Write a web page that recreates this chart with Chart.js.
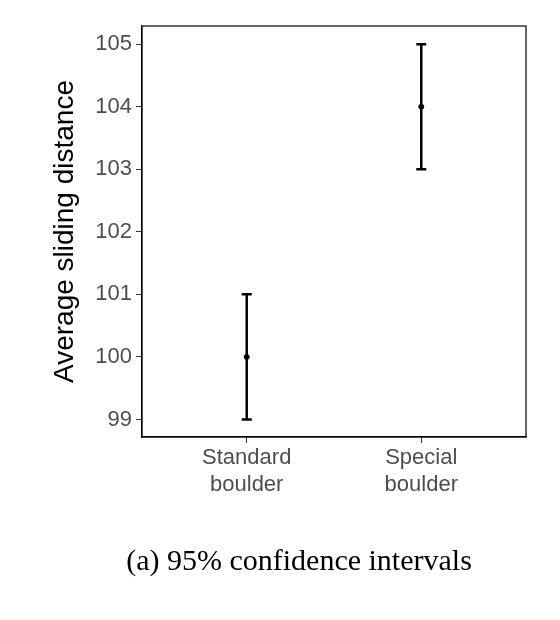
<!DOCTYPE html>
<html>
<head>
<script src="https://cdn.jsdelivr.net/npm/chart.js@4"></script>
<style>body{margin:0;background:#fff}#wrap{width:560px;height:620px}</style>
</head>
<body>
<div id="wrap"><canvas id="c"></canvas></div>
<script>
// data
const groups = ['Standard\nboulder', 'Special\nboulder'];
const means = [100, 104];
const lower = [99, 103];
const upper = [101, 105];
const yTicks = [99, 100, 101, 102, 103, 104, 105];
const caption = '(a) 95% confidence intervals';

const errorBars = {
  id: 'errorBars',
  afterDatasetsDraw(chart) {
    const ctx = chart.ctx, x = chart.scales.x, y = chart.scales.y, a = chart.chartArea;
    ctx.save();
    ctx.strokeStyle = '#000';
    ctx.lineWidth = 2.5;
    means.forEach((m, i) => {
      const px = x.getPixelForValue(i + 1);
      const y0 = y.getPixelForValue(lower[i]), y1 = y.getPixelForValue(upper[i]);
      ctx.beginPath();
      ctx.moveTo(px, y0); ctx.lineTo(px, y1);
      ctx.moveTo(px - 5, y0); ctx.lineTo(px + 5, y0);
      ctx.moveTo(px - 5, y1); ctx.lineTo(px + 5, y1);
      ctx.stroke();
    });
    // panel border
    ctx.lineWidth = 1.2;
    ctx.strokeRect(a.left, a.top, a.right - a.left, a.bottom - a.top);
    // caption
    ctx.fillStyle = '#000';
    ctx.font = '30px "Liberation Serif", serif';
    ctx.textAlign = 'center';
    ctx.fillText(caption, 299, 570);
    ctx.restore();
  }
};

new Chart(document.getElementById('c'), {
  type: 'scatter',
  data: {
    datasets: [{
      data: means.map((m, i) => ({ x: i + 1, y: m })),
      backgroundColor: '#000', borderColor: '#000', pointRadius: 2.5
    }]
  },
  options: {
    responsive: true, maintainAspectRatio: false, animation: false,
    layout: { padding: { top: 26, right: 34, bottom: 110, left: 44 } },
    plugins: { legend: { display: false }, tooltip: { enabled: false } },
    scales: {
      x: {
        type: 'linear', min: 0.4, max: 2.6,
        afterBuildTicks: s => { s.ticks = [{ value: 1 }, { value: 2 }]; },
        afterFit: s => { s.height = 73; },
        grid: { drawOnChartArea: false, tickLength: 6, color: '#333' },
        border: { color: '#000', width: 1.2 },
        ticks: {
          color: '#4d4d4d', font: { size: 22, family: 'Liberation Sans' }, padding: 2,
          callback: v => groups[Math.round(v) - 1].split('\n')
        }
      },
      y: {
        min: 98.72, max: 105.29,
        afterBuildTicks: s => { s.ticks = yTicks.map(v => ({ value: v })); },
        afterFit: s => { s.width = 98; },
        grid: { drawOnChartArea: false, tickLength: 6, color: '#333' },
        border: { color: '#000', width: 1.2 },
        ticks: { color: '#4d4d4d', font: { size: 22, family: 'Liberation Sans' }, padding: 4 },
        title: { display: true, text: 'Average sliding distance', color: '#000',
                 font: { size: 28, family: 'Liberation Sans' }, padding: { bottom: 6 } }
      }
    }
  },
  plugins: [errorBars]
});
</script>
</body>
</html>
